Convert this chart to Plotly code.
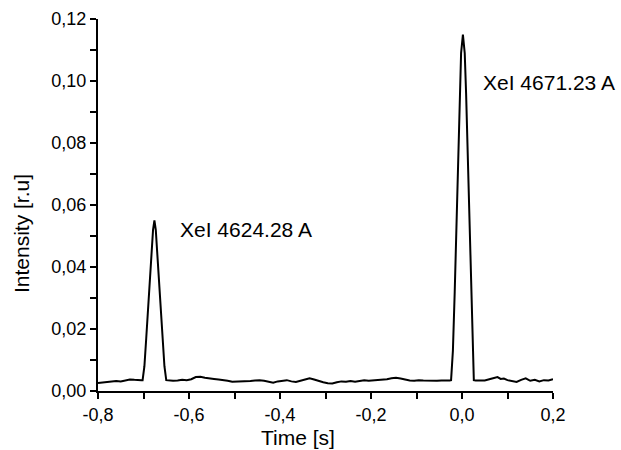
"""
Xe I 라인 시간 분해 강도 - Plotly로 다시 그리기
"""
import plotly.graph_objects as go

# 구간별 데이터
t_left = [-0.800, -0.790, -0.780, -0.770, -0.760, -0.750, -0.740, -0.730, -0.720, -0.710, -0.705]
i_left = [0.0026, 0.0028, 0.0030, 0.0031, 0.0032, 0.0031, 0.0034, 0.0037, 0.0036, 0.0034, 0.0035]

t_peak1 = [-0.702, -0.698, -0.694, -0.690, -0.686, -0.682, -0.679, -0.676,
           -0.673, -0.670, -0.666, -0.662, -0.658, -0.654, -0.650]
i_peak1 = [0.0035, 0.008, 0.017, 0.027, 0.036, 0.045, 0.052, 0.055,
           0.052, 0.045, 0.036, 0.027, 0.017, 0.008, 0.0035]

t_mid = [-0.645, -0.635, -0.625, -0.615, -0.605, -0.595, -0.585, -0.575, -0.565, -0.555,
         -0.545, -0.535, -0.525, -0.515, -0.505, -0.495, -0.485, -0.475, -0.465, -0.455,
         -0.445, -0.435, -0.425, -0.415, -0.405, -0.395, -0.385, -0.375, -0.365, -0.355,
         -0.345, -0.335, -0.325, -0.315, -0.305, -0.295, -0.285, -0.275, -0.265, -0.255,
         -0.245, -0.235, -0.225, -0.215, -0.205, -0.195, -0.185, -0.175, -0.165, -0.155,
         -0.145, -0.135, -0.125, -0.115, -0.105, -0.095, -0.085, -0.075, -0.065, -0.055,
         -0.045, -0.035, -0.027]
i_mid = [0.0034, 0.0033, 0.0034, 0.0036, 0.0035, 0.0038, 0.0045, 0.0046, 0.0043, 0.0040,
         0.0039, 0.0037, 0.0036, 0.0033, 0.0030, 0.0030, 0.0031, 0.0032, 0.0032, 0.0034,
         0.0035, 0.0033, 0.0029, 0.0027, 0.0031, 0.0034, 0.0035, 0.0031, 0.0029, 0.0033,
         0.0038, 0.0041, 0.0037, 0.0032, 0.0028, 0.0025, 0.0024, 0.0028, 0.0031, 0.0030,
         0.0032, 0.0030, 0.0033, 0.0035, 0.0033, 0.0034, 0.0035, 0.0035, 0.0038, 0.0041,
         0.0043, 0.0040, 0.0036, 0.0034, 0.0033, 0.0035, 0.0034, 0.0033, 0.0032, 0.0033,
         0.0034, 0.0033, 0.0034]

t_peak2 = [-0.024, -0.020, -0.016, -0.012, -0.008, -0.005, -0.002, 0.002,
           0.006, 0.009, 0.012, 0.016, 0.020, 0.023, 0.026]
i_peak2 = [0.0035, 0.013, 0.032, 0.054, 0.078, 0.096, 0.109, 0.115,
           0.109, 0.096, 0.078, 0.054, 0.032, 0.013, 0.0035]

t_right = [0.030, 0.040, 0.050, 0.060, 0.070, 0.078, 0.085, 0.092, 0.100, 0.110,
           0.120, 0.130, 0.140, 0.150, 0.160, 0.170, 0.180, 0.190, 0.200]
i_right = [0.0034, 0.0035, 0.0034, 0.0038, 0.0043, 0.0045, 0.0039, 0.0040, 0.0035, 0.0031,
           0.0029, 0.0036, 0.0041, 0.0033, 0.0036, 0.0031, 0.0035, 0.0034, 0.0038]

# 눈금
x_ticks = [-0.8, -0.7, -0.6, -0.5, -0.4, -0.3, -0.2, -0.1, 0.0, 0.1, 0.2]
x_labels = ["-0,8", "", "-0,6", "", "-0,4", "", "-0,2", "", "0,0", "", "0,2"]
y_ticks = [0.00, 0.01, 0.02, 0.03, 0.04, 0.05, 0.06, 0.07, 0.08, 0.09, 0.10, 0.11, 0.12]
y_labels = ["0,00", "", "0,02", "", "0,04", "", "0,06", "", "0,08", "", "0,10", "", "0,12"]

# 주석
labels = ["XeI 4624.28 A", "XeI 4671.23 A"]
label_x = [-0.625, 0.041]
label_y = [0.052, 0.0994]

time = t_left + t_peak1 + t_mid + t_peak2 + t_right
intensity = i_left + i_peak1 + i_mid + i_peak2 + i_right

FONT = "Arial, Liberation Sans, sans-serif"

fig = go.Figure()
fig.add_trace(go.Scatter(
    x=time, y=intensity, mode="lines",
    line=dict(color="black", width=2),
    showlegend=False, hoverinfo="skip",
))

for txt, lx, ly in zip(labels, label_x, label_y):
    fig.add_annotation(x=lx, y=ly, text=txt, showarrow=False,
                       xanchor="left", yanchor="middle",
                       font=dict(family=FONT, size=21, color="black"))

# 축 제목 (원본처럼 약간 치우친 위치)
fig.add_annotation(text="Time [s]", xref="paper", yref="paper", x=0.439, y=0,
                   xanchor="center", yanchor="middle", yshift=-46, showarrow=False,
                   font=dict(family=FONT, size=21, color="black"))
fig.add_annotation(text="Intensity [r.u]", xref="paper", yref="paper", x=0, y=0.422,
                   xanchor="center", yanchor="middle", xshift=-77, textangle=-90,
                   showarrow=False, font=dict(family=FONT, size=21, color="black"))

axis_common = dict(
    showgrid=False, zeroline=False, automargin=False,
    showline=True, linecolor="black", linewidth=2,
    ticks="outside", ticklen=6, tickwidth=1.5, tickcolor="black",
    tickfont=dict(family=FONT, size=18, color="black"),
    mirror=False,
)

fig.update_layout(
    width=621, height=450,
    margin=dict(l=98, r=68, t=19, b=59),
    paper_bgcolor="white", plot_bgcolor="white",
    xaxis=dict(range=[-0.8, 0.2], tickmode="array", tickvals=x_ticks, ticktext=x_labels,
               **axis_common),
    yaxis=dict(range=[0, 0.12], tickmode="array", tickvals=y_ticks, ticktext=y_labels,
               **axis_common),
)

# body 기본 여백(8px) 제거, 모드바 숨김
fig.write_html("out.html", config={"displayModeBar": False},
               post_script="document.body.style.margin='0';")
